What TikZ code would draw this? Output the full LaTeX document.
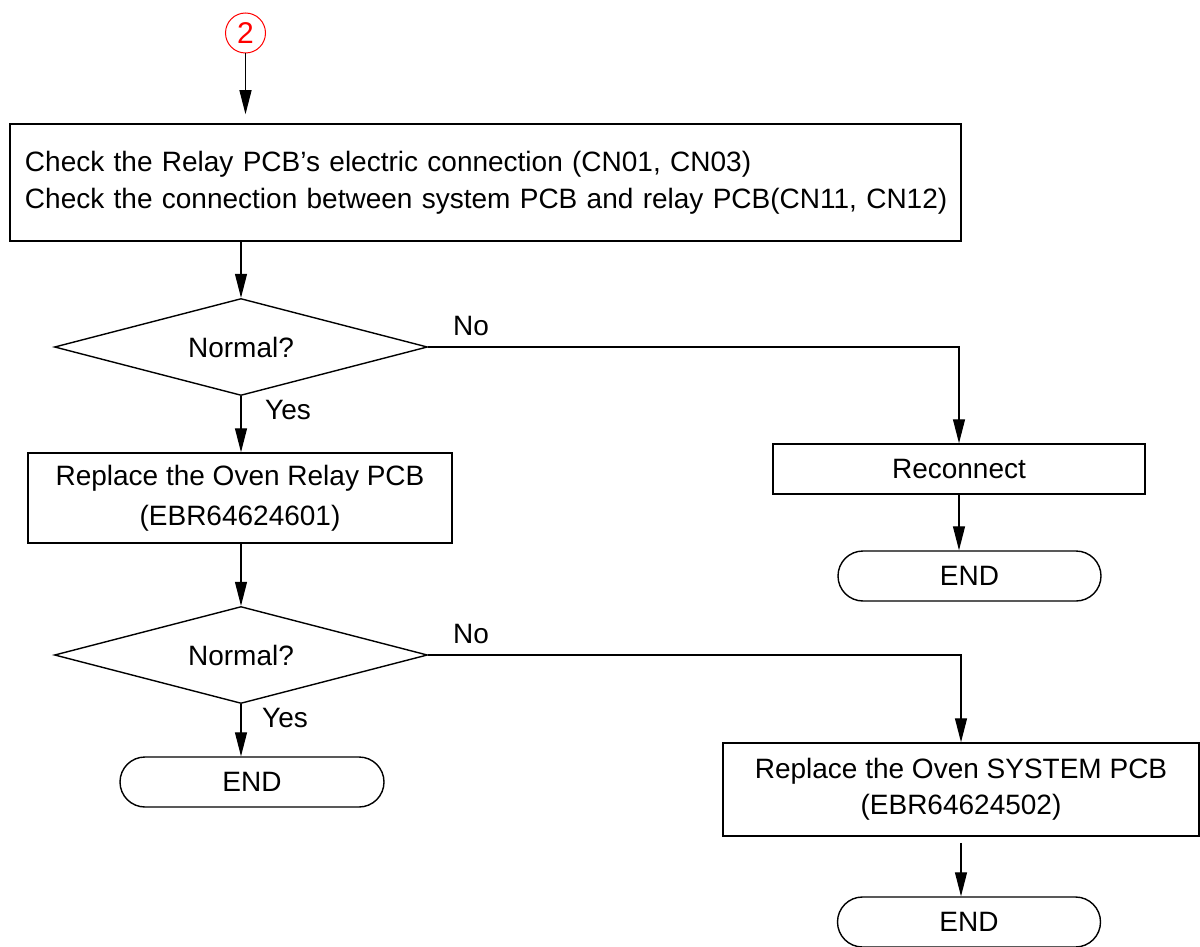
\documentclass[tikz,border=0pt]{standalone}
\usepackage{fontspec}
\setmainfont{Liberation Sans}
\usetikzlibrary{shapes.geometric,arrows.meta}
\begin{document}
\begin{tikzpicture}[x=0.5pt,y=-0.5pt,
  every node/.style={font=\fontsize{14}{18.5}\selectfont},
  box/.style={draw,line width=0.75pt,inner sep=0pt,align=center},
  dec/.style={draw,diamond,aspect=3.85,line width=0.7pt,inner sep=0pt,minimum width=186.5pt,minimum height=48.5pt},
  term/.style={draw,rounded corners=12.5pt,line width=0.7pt,inner sep=0pt,minimum width=131.5pt,minimum height=25pt},
  arr/.style={line width=0.6pt,-{Triangle[length=12pt,width=6pt]}},
  lbl/.style={inner sep=0pt}]
\useasboundingbox (0,0) rectangle (1200,947);

\node[draw=red,circle,minimum size=20pt,inner sep=0pt,text=red,line width=0.5pt,font=\fontsize{15}{18}\selectfont] (c2) at (245.5,33) {2};

\node[box,minimum width=475.5pt,minimum height=58.5pt,text width=475.5pt,inner xsep=0pt,align=left] (b1) at (485.5,182.5)
  {\hspace*{7.5pt}Check the Relay PCB’s electric connection (CN01, CN03)\\\hspace*{7.5pt}Check the connection between system PCB and relay PCB(CN11, CN12)};

\node[dec] (d1) at (241,347) {Normal?};
\node[lbl] (no1) at (471,326) {No};
\node[lbl] (yes1) at (288,410) {Yes};

\node[box,minimum width=186pt,minimum height=25pt] (rc) at (959,469) {Reconnect};
\node[term] (er) at (969.5,576) {END};

\node[box,minimum width=212pt,minimum height=45pt,font=\fontsize{14}{20}\selectfont] (r1) at (240,498)
  {Replace the Oven Relay PCB\\(EBR64624601)};

\node[dec] (d2) at (241,655) {Normal?};
\node[lbl] (no2) at (471,634) {No};
\node[lbl] (yes2) at (285,718) {Yes};

\node[term,minimum width=132pt] (e1) at (252,782) {END};

\node[box,minimum width=238pt,minimum height=46.5pt,font=\fontsize{14}{18}\selectfont] (sys) at (961,789.5)
  {Replace the Oven SYSTEM PCB\\(EBR64624502)};
\node[term] (e3) at (969,922) {END};

\draw[arr,shorten >=4.5pt] (c2.south) -- (c2.south |- b1.north);
\draw[arr] (b1.south -| d1.north) -- (d1.north);
\draw[arr] (d1.east) -| (rc.north);
\draw[arr] (d1.south) -- (d1.south |- r1.north);
\draw[arr] (rc.south) -- (rc.south |- er.north);
\draw[arr] (r1.south -| d2.north) -- (d2.north);
\draw[arr] (d2.east) -| (sys.north);
\draw[arr] (d2.south) -- (d2.south |- e1.north);
\draw[arr,shorten <=3pt] (sys.south) -- (sys.south |- e3.north);
\end{tikzpicture}
\end{document}
